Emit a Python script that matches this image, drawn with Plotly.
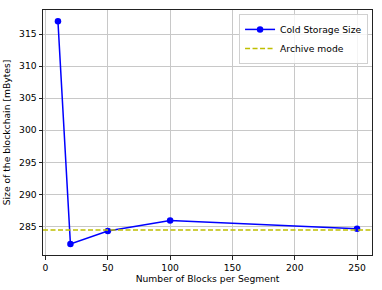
import plotly.graph_objects as go

blocks_per_segment = [10, 20, 50, 100, 250]
cold_storage_size = [317.0, 282.24, 284.27, 285.93, 284.63]
archive_mode = 284.42
x_ticks = [0, 50, 100, 150, 200, 250]
y_ticks = [285, 290, 295, 300, 305, 310, 315]

FONT = "DejaVu Sans"
FS = 9.2

fig = go.Figure()
fig.add_trace(go.Scatter(
    x=blocks_per_segment, y=cold_storage_size, mode="lines+markers",
    name="Cold Storage Size",
    line=dict(color="#0000ff", width=1.5),
    marker=dict(color="#0000ff", size=6.5),
))
fig.add_trace(go.Scatter(
    x=[-2, 262], y=[archive_mode, archive_mode], mode="lines",
    name="Archive mode",
    line=dict(color="#bfbf00", width=1.5, dash="5px,2.5px"),
))

axis_common = dict(
    showline=True, linecolor="#222222", linewidth=1, mirror=True,
    showgrid=True, gridcolor="#c8c8c8", gridwidth=1,
    ticks="outside", ticklen=3.5, tickcolor="#222222", tickwidth=1,
    zeroline=False, automargin=False,
    tickfont=dict(family=FONT, size=FS, color="black"),
)

fig.update_xaxes(range=[-2, 262], tickvals=x_ticks,
                 title=dict(text="Number of Blocks per Segment",
                            font=dict(family=FONT, size=FS, color="black"),
                            standoff=4),
                 **axis_common)
fig.update_yaxes(range=[280.53, 318.77], tickvals=y_ticks,
                 title=dict(text="Size of the blockchain [mBytes]",
                            font=dict(family=FONT, size=FS, color="black"),
                            standoff=6),
                 **axis_common)

fig.update_layout(
    width=382, height=290,
    margin=dict(l=43, r=10, t=10, b=35),
    plot_bgcolor="white", paper_bgcolor="white",
    font=dict(family=FONT, size=FS, color="black"),
    showlegend=True,
    legend=dict(x=0.988, y=0.984, xanchor="right", yanchor="top",
                bgcolor="rgba(255,255,255,0.8)", bordercolor="#d0d0d0",
                borderwidth=1, font=dict(family=FONT, size=FS),
                tracegroupgap=0, itemwidth=30),
)

fig.write_html("out.html", config={"displayModeBar": False},
               post_script="document.body.style.margin='0';document.body.style.overflow='hidden';")
